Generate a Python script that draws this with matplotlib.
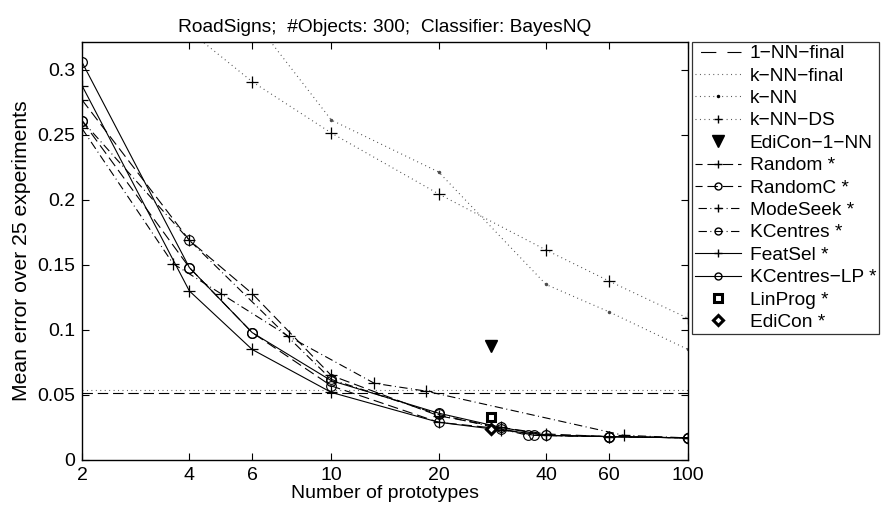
import matplotlib
matplotlib.use("Agg")
import matplotlib.pyplot as plt
from matplotlib.lines import Line2D
from matplotlib.ticker import FixedLocator, FixedFormatter, NullLocator

plt.rcParams['font.family'] = ['Liberation Sans', 'DejaVu Sans']
plt.rcParams['lines.scale_dashes'] = False

title = "RoadSigns;  #Objects: 300;  Classifier: BayesNQ"
xlabel = "Number of prototypes"
ylabel = "Mean error over 25 experiments"

xticks = [2, 4, 6, 10, 20, 40, 60, 100]
xticklabels = ["2", "4", "6", "10", "20", "40", "60", "100"]
yticks = [0, 0.05, 0.1, 0.15, 0.2, 0.25, 0.3]
yticklabels = ["0", "0.05", "0.1", "0.15", "0.2", "0.25", "0.3"]

# horizontal reference levels
nn1_final = 0.0517
knn_final = 0.0535

knn_x = [2, 4, 6, 10, 20, 40, 60, 100]
knn_y = [0.45, 0.40, 0.34, 0.2615, 0.2215, 0.135, 0.114, 0.085]

knnds_x = [2, 4, 6, 10, 20, 40, 60, 100]
knnds_y = [0.42, 0.33, 0.291, 0.2515, 0.2046, 0.1615, 0.1377, 0.109]

edicon1nn_x = [28]
edicon1nn_y = [0.088]

random_x = [2, 4, 6, 10, 20, 30, 40, 60, 100]
random_y = [0.277, 0.169, 0.128, 0.065, 0.034, 0.025, 0.020, 0.018, 0.017]

randomc_x = [2, 4, 6, 10, 20, 30, 37, 60, 100]
randomc_y = [0.261, 0.148, 0.098, 0.057, 0.029, 0.024, 0.019, 0.018, 0.017]

modeseek_x = [2, 3.6, 4.9, 7.6, 13.2, 18.4, 66, 100]
modeseek_y = [0.255, 0.151, 0.128, 0.095, 0.059, 0.053, 0.019, 0.017]

kcentres_x = [2, 4, 10, 20, 35.6, 60, 100]
kcentres_y = [0.261, 0.169, 0.062, 0.035, 0.019, 0.018, 0.017]

featsel_x = [2, 4, 6, 10, 20, 30, 40, 60, 100]
featsel_y = [0.288, 0.130, 0.085, 0.052, 0.029, 0.023, 0.019, 0.018, 0.017]

kclp_x = [2, 4, 6, 10, 20, 30, 40, 60, 100]
kclp_y = [0.306, 0.148, 0.098, 0.061, 0.036, 0.025, 0.019, 0.018, 0.017]

linprog_x = [28]
linprog_y = [0.033]

edicon_x = [28]
edicon_y = [0.024]

fig = plt.figure(figsize=(8.82, 5.13), dpi=100)
ax = fig.add_axes([82/882, 53/513, 606/882, 418/513])

lw = 0.8
DASH = (0, (7.5, 3.5))
DOT = (0, (0.7, 2.5))
DASHDOT = (0, (6, 2.5, 0.7, 2.5))

ax.axhline(nn1_final, color='k', lw=lw, ls=DASH)
ax.axhline(knn_final, color='0.35', lw=lw, ls=DOT)
ax.plot(knn_x, knn_y, color='0.3', lw=lw, ls=DOT, marker='.', ms=3)
ax.plot(knnds_x, knnds_y, color='0.3', lw=lw, ls=DOT, marker='+', ms=8, mew=0.9, mec='k')
ax.plot(edicon1nn_x, edicon1nn_y, ls='none', marker='v', ms=8.5, color='k', mfc='k')
ax.plot(random_x, random_y, color='k', lw=lw, ls=DASH, marker='+', ms=8, mew=0.9)
ax.plot(randomc_x, randomc_y, color='k', lw=lw, ls=DASH, marker='o', ms=7, mfc='none', mew=0.8)
ax.plot(modeseek_x, modeseek_y, color='k', lw=lw, ls=DASHDOT, marker='+', ms=8, mew=0.9)
ax.plot(kcentres_x, kcentres_y, color='k', lw=lw, ls=DASHDOT, marker='o', ms=7, mfc='none', mew=0.8)
ax.plot(featsel_x, featsel_y, color='k', lw=lw, ls='-', marker='+', ms=8, mew=0.9)
ax.plot(kclp_x, kclp_y, color='k', lw=lw, ls='-', marker='o', ms=7, mfc='none', mew=0.9)
ax.plot(linprog_x, linprog_y, ls='none', marker='s', ms=6, color='k', mfc='white', mew=2.2)
ax.plot(edicon_x, edicon_y, ls='none', marker='D', ms=5.5, color='k', mfc='white', mew=2.2)

ax.set_xscale('log')
ax.set_xlim(2, 100)
ax.set_ylim(0, 0.3215)
ax.xaxis.set_major_locator(FixedLocator(xticks))
ax.xaxis.set_major_formatter(FixedFormatter(xticklabels))
ax.xaxis.set_minor_locator(NullLocator())
ax.yaxis.set_major_locator(FixedLocator(yticks))
ax.yaxis.set_major_formatter(FixedFormatter(yticklabels))
ax.tick_params(direction='in', top=True, right=True, length=5, width=0.8, labelsize=14)
ax.tick_params(axis='x', pad=5)
ax.tick_params(axis='y', pad=5)
for s in ax.spines.values():
    s.set_linewidth(1.0)

ax.set_title(title, fontsize=13.8, pad=7)
ax.set_xlabel(xlabel, fontsize=14, labelpad=1)
ax.set_ylabel(ylabel, fontsize=15.2, labelpad=4)

# legend handles; dash offsets chosen so a dash sits at the handle centre
LDASH = (2.4, (7.5, 3.5))
LDASHDOT = (9.5, (6, 2.5, 0.7, 2.5))
handles = [
    Line2D([], [], color='k', lw=lw, ls=(-4.0, (11, 8))),
    Line2D([], [], color='0.35', lw=lw, ls=DOT),
    Line2D([], [], color='0.3', lw=lw, ls=DOT, marker='.', ms=3, mec='k', mfc='k'),
    Line2D([], [], color='0.3', lw=lw, ls=DOT, marker='+', ms=6, mec='k'),
    Line2D([], [], ls='none', marker='v', ms=8.5, color='k'),
    Line2D([], [], color='k', lw=lw, ls=LDASH, marker='+', ms=6),
    Line2D([], [], color='k', lw=lw, ls=LDASH, marker='o', ms=5, mfc='none'),
    Line2D([], [], color='k', lw=lw, ls=LDASHDOT, marker='+', ms=6),
    Line2D([], [], color='k', lw=lw, ls=LDASHDOT, marker='o', ms=5, mfc='none'),
    Line2D([], [], color='k', lw=lw, ls='-', marker='+', ms=6),
    Line2D([], [], color='k', lw=lw, ls='-', marker='o', ms=5, mfc='none'),
    Line2D([], [], ls='none', marker='s', ms=6, color='k', mfc='white', mew=2.2),
    Line2D([], [], ls='none', marker='D', ms=5.5, color='k', mfc='white', mew=2.2),
]
labels = ["1\u2212NN\u2212final", "k\u2212NN\u2212final", "k\u2212NN", "k\u2212NN\u2212DS",
          "EdiCon\u22121\u2212NN", "Random *", "RandomC *", "ModeSeek *", "KCentres *",
          "FeatSel *", "KCentres\u2212LP *", "LinProg *", "EdiCon *"]
leg = fig.legend(handles, labels, loc='upper left', bbox_to_anchor=(692/882, 471/513),
                 fontsize=13.8, frameon=True, fancybox=False, edgecolor='k',
                 handlelength=2.4, handletextpad=0.45, labelspacing=0.26,
                 borderpad=0.15, borderaxespad=0)
leg.get_frame().set_linewidth(0.9)

fig.savefig("out.png", dpi=100)
